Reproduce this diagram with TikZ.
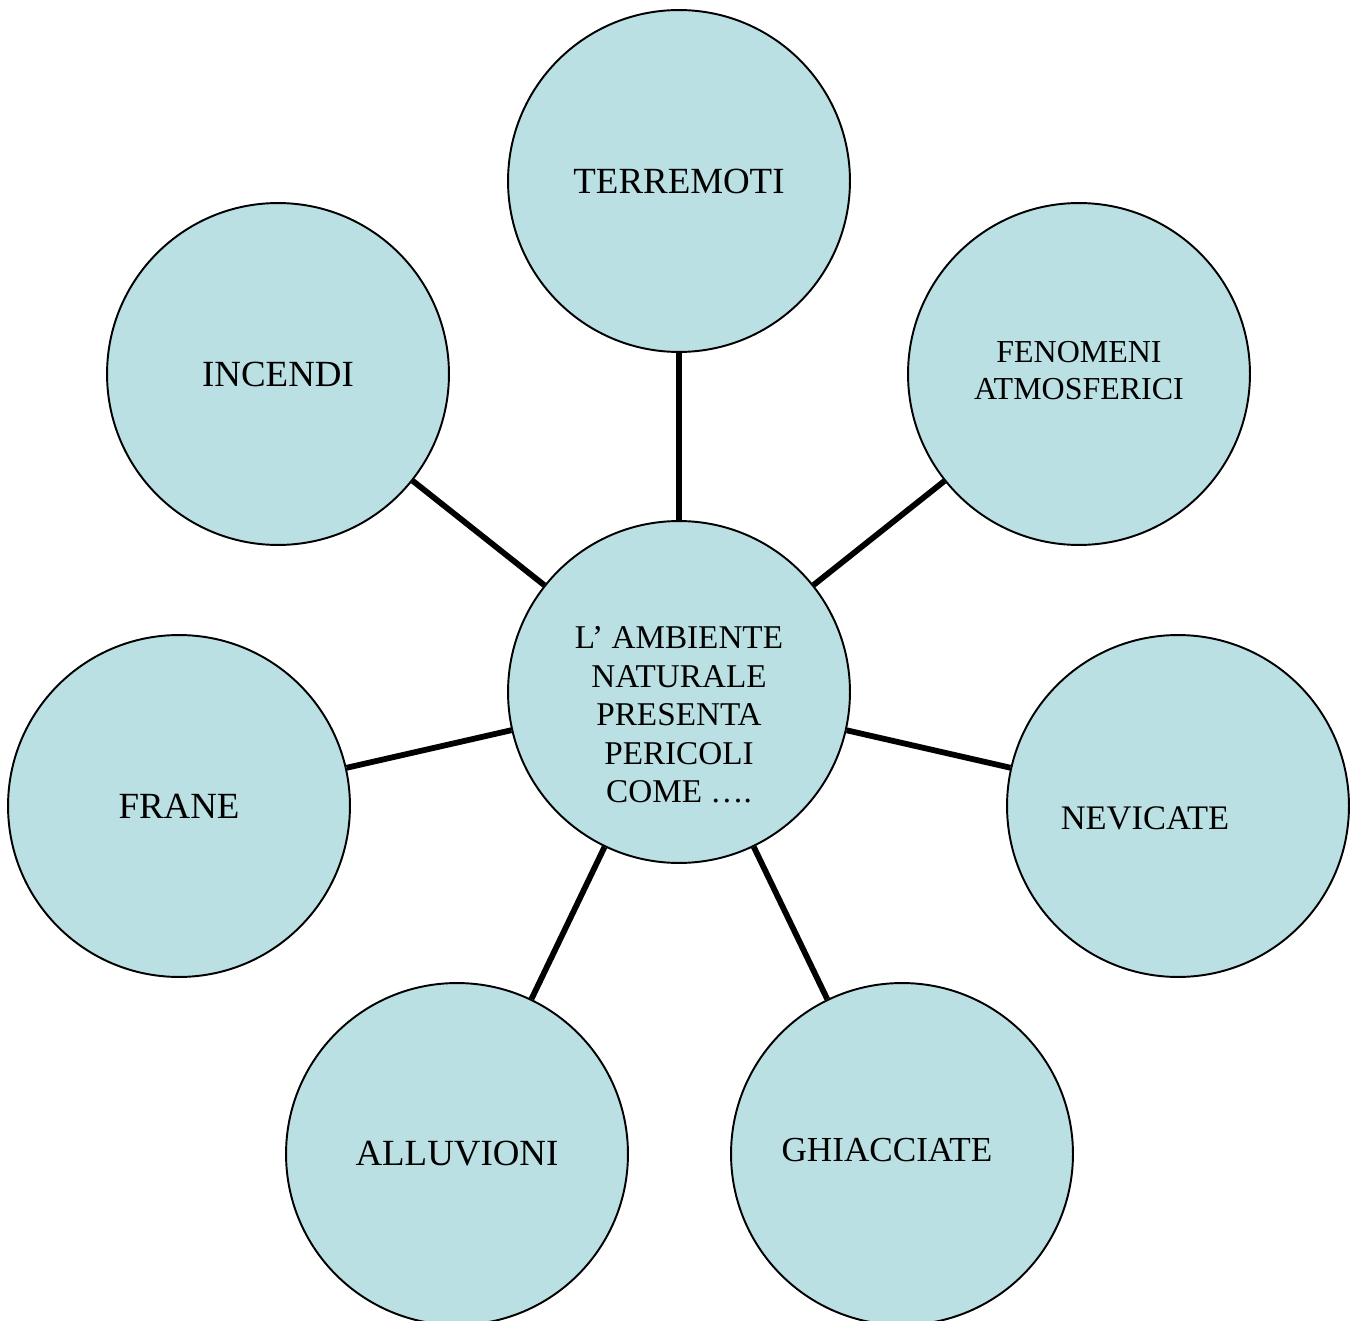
\documentclass[tikz,border=0pt]{standalone}
\usepackage{fontspec}
\setmainfont{Liberation Serif}
\definecolor{azzurro}{RGB}{186,224,227}
\tikzset{
  bolla/.style={draw, circle, fill=azzurro, line width=1.1pt, minimum size=6.84cm, inner sep=0pt, align=center},
  legame/.style={line width=3.3pt},
  scritta/.style={inner sep=0pt, align=center}
}

\begin{document}
\begin{tikzpicture}[x=0.02cm, y=-0.02cm]
\useasboundingbox (0,0) rectangle (1360,1321);

% Circles
\node[bolla] (ambiente) at (679,692) {};
\node[bolla, font=\fontsize{21}{25}\selectfont] (terremoti) at (679,181) {TERREMOTI};
\node[bolla] (fenomeni) at (1079,374) {};
\node[bolla, font=\fontsize{21}{25}\selectfont] (incendi) at (278,374) {INCENDI};
\node[bolla, font=\fontsize{21}{25}\selectfont] (frane) at (179,806) {FRANE};
\node[bolla] (nevicate) at (1178,806) {};
\node[bolla, font=\fontsize{21}{25}\selectfont] (alluvioni) at (457,1154) {ALLUVIONI};
\node[bolla] (ghiacciate) at (902,1154) {};

% Off-centre texts
\node[scritta, font=\fontsize{18.9}{21.9}\selectfont] (domanda) at (679,715)
  {L’ AMBIENTE\\NATURALE\\PRESENTA\\PERICOLI\\COME ….};
\node[scritta, font=\fontsize{18.2}{21}\selectfont] (meteo) at (1079,371) {FENOMENI\\ATMOSFERICI};
\node[scritta, font=\fontsize{19.6}{23}\selectfont] (neve) at (1145,818) {NEVICATE};
\node[scritta, font=\fontsize{20}{23}\selectfont] (ghiaccio) at (887,1150) {GHIACCIATE};

% Connectors
\draw[legame] (ambiente) -- (terremoti);
\draw[legame] (ambiente) -- (fenomeni);
\draw[legame] (ambiente) -- (incendi);
\draw[legame] (ambiente) -- (frane);
\draw[legame] (ambiente) -- (nevicate);
\draw[legame] (ambiente) -- (alluvioni);
\draw[legame] (ambiente) -- (ghiacciate);

\end{tikzpicture}
\end{document}
